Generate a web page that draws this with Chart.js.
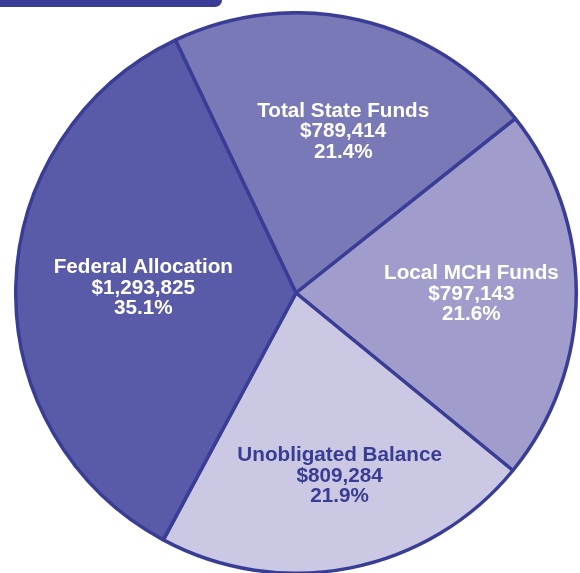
<!DOCTYPE html>
<html>
<head>
<meta charset="utf-8">
<script src="https://cdn.jsdelivr.net/npm/chart.js@4"></script>
<style>
  html, body { margin: 0; padding: 0; background: #fff; overflow: hidden; }
  body { width: 580px; height: 573px; position: relative; }
  .tab { position: absolute; left: 0; top: 0; width: 222px; height: 7px; background: #3a3d96; border-bottom-right-radius: 8px; }
  .wrap { position: absolute; left: 14px; top: 11px; width: 564px; height: 564px; }
</style>
</head>
<body>
<div class="tab"></div>
<div class="wrap"><canvas id="chart"></canvas></div>
<script>
// funding sources, clockwise from the top
let labels = ["Total State Funds", "Local MCH Funds", "Unobligated Balance", "Federal Allocation"];
let amounts = [789414, 797143, 809284, 1293825];
let percents = ["21.4%", "21.6%", "21.9%", "35.1%"];

let fills = ['#7a79b8', '#a09ccb', '#cbc8e4', '#5a5ba8'];
let textColors = ['#ffffff', '#ffffff', '#383c94', '#ffffff'];
// where the text block sits inside each slice (share of radius, angle nudge in degrees)
let labelRadius = [0.60, 0.626, 0.671, 0.545];
let labelNudge = [3.3, 0, -2.2, 0.5];

let money = n => '$' + n.toLocaleString('en-US');

const sliceLabels = {
  id: 'sliceLabels',
  afterDatasetsDraw(chart) {
    let ctx = chart.ctx;
    let arcs = chart.getDatasetMeta(0).data;
    ctx.save();
    ctx.font = 'bold 20.7px "Liberation Sans", Arial, sans-serif';
    ctx.textAlign = 'center';
    ctx.textBaseline = 'middle';
    arcs.forEach((arc, i) => {
      let p = arc.getProps(['x', 'y', 'startAngle', 'endAngle', 'outerRadius'], true);
      let mid = (p.startAngle + p.endAngle) / 2 + labelNudge[i] * Math.PI / 180;
      let r = p.outerRadius * labelRadius[i];
      let cx = p.x + Math.cos(mid) * r;
      let cy = p.y + Math.sin(mid) * r;
      let lines = [labels[i], money(amounts[i]), percents[i]];
      ctx.fillStyle = textColors[i];
      lines.forEach((t, k) => {
        ctx.fillText(t, cx, cy + (k - 1) * 20.5);
      });
    });
    ctx.restore();
  }
};

window.onload = () => {
  let ctx = document.getElementById("chart").getContext('2d');
  new Chart(ctx, {
    type: 'pie',
    data: {
      labels: labels,
      datasets: [{
        data: amounts,
        backgroundColor: fills,
        borderColor: '#3a3d96',
        borderWidth: 3.5
      }]
    },
    options: {
      responsive: true,
      maintainAspectRatio: false,
      animation: false,
      rotation: -25.5,
      layout: { padding: 0 },
      plugins: {
        legend: { display: false },
        tooltip: { enabled: false }
      }
    },
    plugins: [sliceLabels]
  });
}
</script>
</body>
</html>
